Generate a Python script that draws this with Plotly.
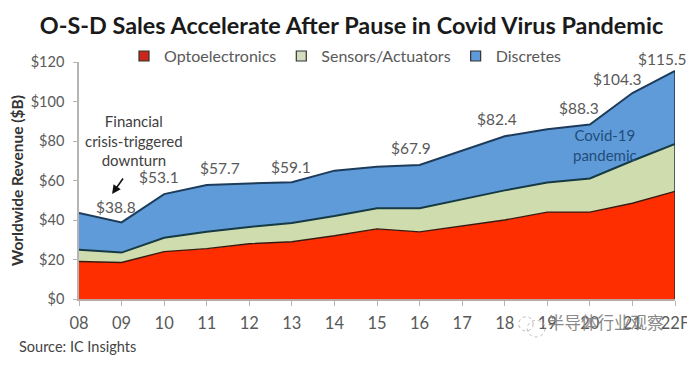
import plotly.graph_objects as go

years = ["08","09","10","11","12","13","14","15","16","17","18","19","20","21","22F"]
optoelectronics = [19.0,18.5,24.0,25.5,28.0,29.0,32.0,35.5,34.0,37.0,40.0,44.0,44.0,48.5,54.5]
sensors_actuators = [6.0,5.0,7.0,8.5,8.5,9.5,10.0,10.5,12.0,13.5,15.0,15.0,17.0,21.5,24.0]
discretes = [18.5,15.3,22.1,23.7,22.0,20.6,23.0,21.0,21.9,24.5,27.4,27.0,27.3,34.3,37.0]
totals = [a+b+c for a,b,c in zip(optoelectronics,sensors_actuators,discretes)]
labels = {"09":"$38.8","10":"$53.1","11":"$57.7","13":"$59.1","16":"$67.9",
          "18":"$82.4","20":"$88.3","21":"$104.3","22F":"$115.5"}
label_offsets = {"09":(-6,15),"10":(-5,17),"11":(13,17),"13":(-1,15),"16":(-9,17),
                 "18":(-8,17),"20":(-11,17),"21":(-15,14),"22F":(-13,12)}
y_ticks = [0,20,40,60,80,100,120]

FONT = "Lato"
GREY = "#595959"
fig = go.Figure()
styles = [
    ("Optoelectronics", optoelectronics, "#FE2E00", "#3a1a10", 1.4, "#C8281A"),
    ("Sensors/Actuators", sensors_actuators, "#CFDCAE", "#163a44", 2, "#D4DCC0"),
    ("Discretes", discretes, "#5F9BD9", "#1d3c5c", 2, "#5F9BD9"),
]
for name, vals, fill, line, w, swatch in styles:
    fig.add_trace(go.Scatter(x=years, y=vals, name=name, mode="lines", stackgroup="a",
                             fillcolor=fill, line=dict(color=line, width=w, shape="linear"),
                             hoverinfo="skip", showlegend=False))
fig.add_trace(go.Scatter(x=[years[-1], years[-1]], y=[0, totals[-1]], mode="lines",
                         line=dict(color="#1d2c3c", width=1.4), showlegend=False, hoverinfo="skip"))
for name, vals, fill, line, w, swatch in styles:
    fig.add_trace(go.Scatter(x=[None], y=[None], name=name, mode="markers",
                             marker=dict(symbol="square", size=10, color=swatch,
                                         line=dict(color="#333333", width=1.2))))

ann = []
for k, t in labels.items():
    i = years.index(k)
    dx, dy = label_offsets[k]
    ann.append(dict(x=i, y=totals[i], text=t, showarrow=False, xshift=dx, yshift=dy,
                    font=dict(family=FONT, size=15.5, color=GREY)))
ann += [
    dict(xref="paper", yref="paper", x=0.0923, y=0.67, text="Financial<br>crisis-triggered<br>downturn",
         showarrow=False, align="center", font=dict(family=FONT, size=15, color="#404040"),
         xanchor="center", yanchor="middle"),
    dict(xref="paper", yref="paper", x=0.0555, y=0.443, ax=12, ay=-17,
         text="", showarrow=True, arrowhead=2, arrowsize=1.1, arrowwidth=1.6, arrowcolor="#111111"),
    dict(xref="paper", yref="paper", x=0.8826, y=0.65, text="Covid-19<br>pandemic", showarrow=False,
         align="center", font=dict(family=FONT, size=15, color="#1F4E79"), xanchor="center", yanchor="middle"),
    dict(xref="paper", x=-0.104, yref="paper", y=-0.2025, text="Source: IC Insights", showarrow=False,
         xanchor="left", yanchor="middle", font=dict(family=FONT, size=14.5, color="#444444")),
    dict(xref="paper", x=0.884, yref="paper", y=-0.097, text="半导体行业观察", showarrow=False,
         xanchor="center", yanchor="middle", font=dict(family="Noto Sans CJK SC", size=16.5, color="#8a8a8a")),
]
wm = dict(type="circle", xref="paper", yref="paper", line=dict(color="#bbbbbb", width=1, dash="dot"))
shapes = [
    dict(wm, x0=0.738, x1=0.762, y0=-0.135, y1=-0.075),
    dict(wm, x0=0.752, x1=0.782, y0=-0.16, y1=-0.09),
]

fig.update_layout(
    width=687, height=359, paper_bgcolor="white", plot_bgcolor="white",
    margin=dict(l=71, r=20, t=54, b=68),
    title=dict(text="<b>O-S-D Sales Accelerate After Pause in Covid Virus Pandemic</b>",
               x=0.5, xanchor="center", y=0.95, yanchor="middle",
               font=dict(family=FONT, size=23.4, color="#1a1a1a")),
    showlegend=True,
    legend=dict(orientation="h", x=0.0755, xanchor="left", y=1.025, yanchor="middle",
                font=dict(family=FONT, size=16, color=GREY), traceorder="normal",
                itemwidth=30, bgcolor="rgba(0,0,0,0)"),
    xaxis=dict(type="category", range=[0,14], categoryorder="array", categoryarray=years,
               automargin=False, showgrid=False, showline=True, linecolor="#b9a8a4", linewidth=1.5,
               ticks="outside", ticklen=5, tickcolor="#b5b5b5", ticklabelstandoff=3,
               tickfont=dict(family=FONT, size=16.5, color=GREY)),
    yaxis=dict(range=[0,120], tickvals=y_ticks, tickformat="$,d", automargin=False,
               showgrid=False, showline=True,
               linecolor="#b5b5b5", linewidth=1.5, ticks="outside", ticklen=4, tickcolor="#b5b5b5",
               ticklabelstandoff=6, tickfont=dict(family=FONT, size=14.5, color=GREY),
               title=dict(text="<b>Worldwide Revenue ($B)</b>", standoff=4,
                          font=dict(family=FONT, size=15.5, color="#333333"))),
    annotations=ann, shapes=shapes,
)
fig.write_html("out.html")
